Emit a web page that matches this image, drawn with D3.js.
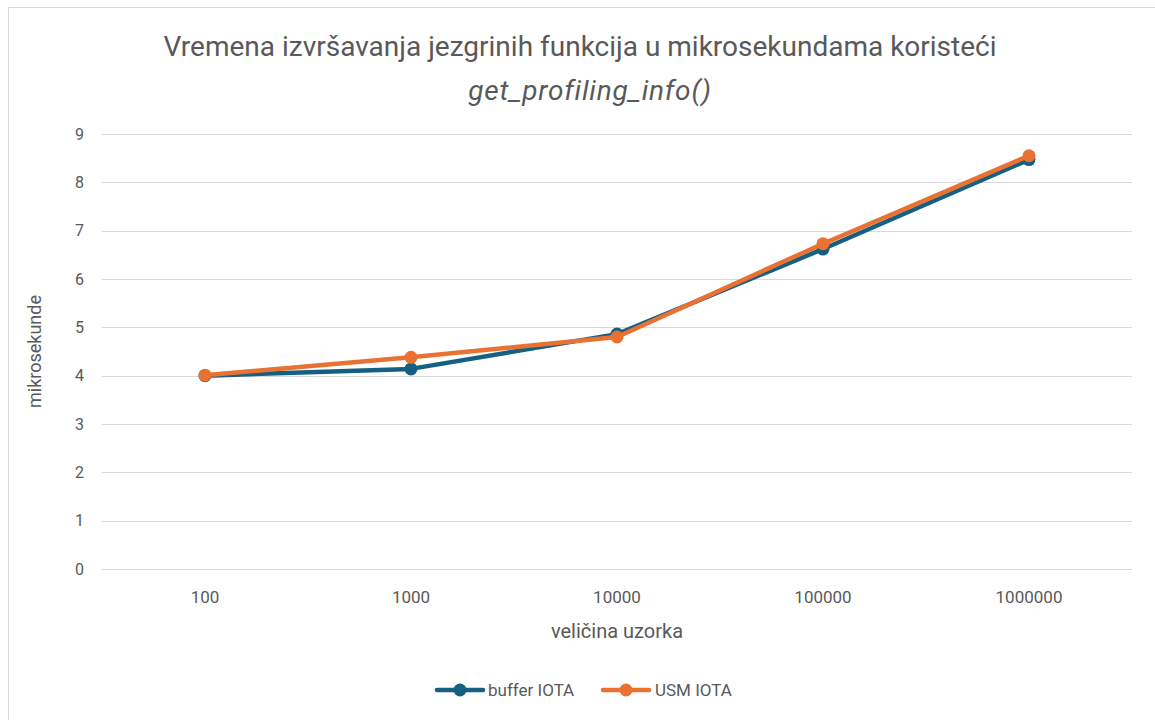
<!DOCTYPE html>
<html>
<head>
<meta charset="utf-8">
<script src="https://cdn.jsdelivr.net/npm/d3@7"></script>
<style>
  body { margin: 0; background: #fff; }
  svg { display: block; }
</style>
</head>
<body>
<svg id="chart" width="1155" height="720"></svg>
<script>
const categories = ["100", "1000", "10000", "100000", "1000000"];
const bufferIOTA = [4.0, 4.14, 4.86, 6.62, 8.47];
const usmIOTA = [4.01, 4.38, 4.80, 6.73, 8.55];
const yTicks = [0, 1, 2, 3, 4, 5, 6, 7, 8, 9];
const seriesNames = ["buffer IOTA", "USM IOTA"];
const seriesColors = ["#156082", "#E97132"];
const titleLine1 = "Vremena izvršavanja jezgrinih funkcija u mikrosekundama koristeći";
const titleLine2 = "get_profiling_info()";
const xTitle = "veličina uzorka";
const yTitle = "mikrosekunde";

const narrow = '"Liberation Sans Narrow", "Roboto", sans-serif';
const regular = '"Roboto", "Liberation Sans", sans-serif';
const textColor = "#595959";

const svg = d3.select("#chart");
svg.append("rect").attr("x", 8.5).attr("y", 7.5).attr("width", 1160).attr("height", 730)
  .attr("fill", "#fff").attr("stroke", "#d9d9d9").attr("stroke-width", 1);

const pLeft = 102, pRight = 1132, pTop = 134, pBottom = 569;
const x = d3.scaleBand().domain(categories).range([pLeft, pRight]);
const y = d3.scaleLinear().domain([0, 9]).range([pBottom, pTop]);

// gridlines
svg.append("g").selectAll("line").data(yTicks).join("line")
  .attr("x1", pLeft).attr("x2", pRight)
  .attr("y1", d => Math.round(y(d)) + 0.5).attr("y2", d => Math.round(y(d)) + 0.5)
  .attr("stroke", "#d9d9d9").attr("stroke-width", 1);

// y axis labels
const yAxis = d3.axisLeft(y).tickValues(yTicks).tickSize(0).tickPadding(0);
const gy = svg.append("g").attr("transform", `translate(${pLeft - 18},0)`).call(yAxis);
gy.select(".domain").remove();
gy.selectAll("text").attr("font-family", regular).attr("font-size", 16).attr("fill", textColor);

// x axis labels
const xAxis = d3.axisBottom(x).tickSize(0).tickPadding(0);
const gx = svg.append("g").attr("transform", `translate(0,${pBottom + 22})`).call(xAxis);
gx.select(".domain").remove();
gx.selectAll("text").attr("font-family", narrow).attr("font-size", 17).attr("fill", textColor);

// titles
svg.append("text").attr("x", 580).attr("y", 56).attr("text-anchor", "middle")
  .attr("font-family", narrow).attr("font-size", 28).attr("fill", textColor).text(titleLine1);
svg.append("text").attr("x", 590).attr("y", 100).attr("text-anchor", "middle")
  .attr("font-family", narrow).attr("font-style", "italic").attr("font-size", 28)
  .attr("letter-spacing", 0.8).attr("fill", textColor).text(titleLine2);

svg.append("text").attr("x", (pLeft + pRight) / 2).attr("y", 638).attr("text-anchor", "middle")
  .attr("font-family", narrow).attr("font-size", 20).attr("fill", textColor).text(xTitle);

svg.append("text").attr("transform", `translate(34,${(pTop + pBottom) / 2}) rotate(-90)`)
  .attr("text-anchor", "middle").attr("dominant-baseline", "central")
  .attr("font-family", regular).attr("font-size", 18).attr("fill", textColor).text(yTitle);

// series
const line = d3.line().x((d, i) => x(categories[i]) + x.bandwidth() / 2).y(d => y(d));
[bufferIOTA, usmIOTA].forEach((vals, si) => {
  const g = svg.append("g");
  g.append("path").datum(vals).attr("d", line).attr("fill", "none")
    .attr("stroke", seriesColors[si]).attr("stroke-width", 4.5)
    .attr("stroke-linejoin", "round").attr("stroke-linecap", "round");
  g.selectAll("circle").data(vals).join("circle")
    .attr("cx", (d, i) => x(categories[i]) + x.bandwidth() / 2)
    .attr("cy", d => y(d)).attr("r", 6.5).attr("fill", seriesColors[si]);
});

// legend
const legendItems = [{ x: 437, tx: 488 }, { x: 603, tx: 655 }];
legendItems.forEach((it, i) => {
  const g = svg.append("g");
  g.append("line").attr("x1", it.x).attr("x2", it.x + 46).attr("y1", 690).attr("y2", 690)
    .attr("stroke", seriesColors[i]).attr("stroke-width", 4.5).attr("stroke-linecap", "round");
  g.append("circle").attr("cx", it.x + 23).attr("cy", 690).attr("r", 6.5).attr("fill", seriesColors[i]);
  g.append("text").attr("x", it.tx).attr("y", 690).attr("dominant-baseline", "central")
    .attr("font-family", regular).attr("font-size", 17).attr("fill", textColor).text(seriesNames[i]);
});
</script>
</body>
</html>
